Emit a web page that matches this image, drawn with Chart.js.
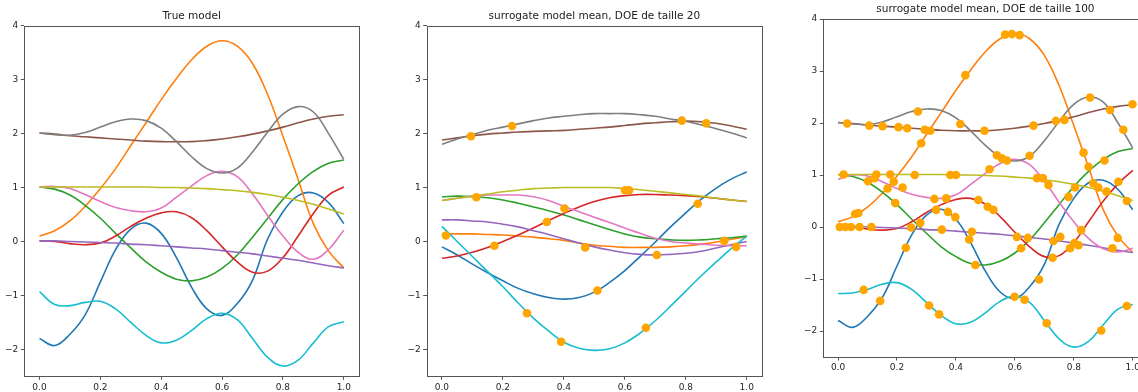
<!DOCTYPE html>
<html>
<head>
<meta charset="utf-8">
<title>Surrogate models</title>
<script src="https://cdn.jsdelivr.net/npm/chart.js@4.4.1/dist/chart.umd.min.js"></script>
<style>
  html, body { margin: 0; padding: 0; background: #fff; overflow: hidden; }
  body { width: 1138px; height: 392px; position: relative; }
  canvas { position: absolute; top: 0; }
</style>
</head>
<body>
<canvas id="trueChart" width="380" height="392" style="left:0px"></canvas>
<canvas id="doe20Chart" width="390" height="392" style="left:380px"></canvas>
<canvas id="doe100Chart" width="400" height="392" style="left:770px"></canvas>
<script>
// common grid for every curve
const xs = [0, 0.05, 0.1, 0.15, 0.2, 0.25, 0.3, 0.35, 0.4, 0.45, 0.5, 0.55, 0.6, 0.65, 0.7, 0.75, 0.8, 0.85, 0.9, 0.95, 1];
const xTicks = [0, 0.2, 0.4, 0.6, 0.8, 1];
const yTicks = [-2, -1, 0, 1, 2, 3, 4];

// true model, one array per output
const trueBlue   = [-1.8, -1.93, -1.72, -1.36, -0.75, -0.15, 0.23, 0.34, 0.15, -0.3, -0.85, -1.25, -1.37, -1.15, -0.72, 0.05, 0.55, 0.85, 0.9, 0.72, 0.33];
const trueOrange = [0.1, 0.2, 0.38, 0.65, 0.98, 1.35, 1.78, 2.2, 2.63, 3.02, 3.37, 3.62, 3.72, 3.62, 3.3, 2.72, 1.95, 1.15, 0.33, -0.18, -0.49];
const trueGreen  = [1.01, 0.97, 0.86, 0.67, 0.43, 0.15, -0.12, -0.38, -0.57, -0.7, -0.73, -0.66, -0.5, -0.25, 0.08, 0.43, 0.78, 1.07, 1.3, 1.45, 1.51];
const trueRed    = [0.01, 0.0, -0.04, -0.06, -0.03, 0.1, 0.28, 0.43, 0.53, 0.55, 0.44, 0.2, -0.1, -0.38, -0.57, -0.55, -0.3, 0.1, 0.52, 0.86, 1.01];
const truePurple = [0.01, 0.01, 0.0, -0.01, -0.02, -0.03, -0.05, -0.06, -0.08, -0.1, -0.12, -0.14, -0.17, -0.2, -0.23, -0.27, -0.31, -0.35, -0.4, -0.45, -0.49];
const trueBrown  = [2.01, 1.99, 1.96, 1.94, 1.92, 1.9, 1.88, 1.86, 1.85, 1.85, 1.85, 1.87, 1.9, 1.94, 1.99, 2.05, 2.12, 2.2, 2.27, 2.32, 2.35];
const truePink   = [1.01, 1.02, 0.98, 0.87, 0.74, 0.63, 0.57, 0.55, 0.62, 0.82, 1.03, 1.22, 1.3, 1.2, 0.88, 0.48, 0.1, -0.2, -0.33, -0.15, 0.21];
const trueGray   = [2.01, 1.98, 1.97, 2.02, 2.12, 2.22, 2.27, 2.24, 2.1, 1.85, 1.57, 1.35, 1.27, 1.36, 1.66, 2.03, 2.36, 2.5, 2.4, 2.0, 1.52];
const trueOlive  = [1.01, 1.01, 1.01, 1.01, 1.01, 1.01, 1.01, 1.01, 1.0, 1.0, 0.99, 0.98, 0.96, 0.94, 0.91, 0.87, 0.82, 0.76, 0.69, 0.6, 0.51];
const trueCyan   = [-0.93, -1.17, -1.19, -1.13, -1.11, -1.25, -1.5, -1.74, -1.88, -1.83, -1.65, -1.43, -1.33, -1.45, -1.8, -2.15, -2.31, -2.2, -1.88, -1.58, -1.49];

// GP mean, 20 training points
const doe20Blue   = [-0.1, -0.25, -0.42, -0.58, -0.73, -0.87, -0.97, -1.04, -1.07, -1.04, -0.94, -0.76, -0.54, -0.28, -0.01, 0.27, 0.53, 0.78, 0.99, 1.16, 1.29];
const doe20Orange = [0.14, 0.14, 0.14, 0.13, 0.12, 0.1, 0.08, 0.05, 0.02, -0.03, -0.07, -0.09, -0.11, -0.11, -0.11, -0.1, -0.08, -0.05, -0.01, 0.04, 0.09];
const doe20Green  = [0.83, 0.84, 0.83, 0.81, 0.77, 0.71, 0.64, 0.57, 0.49, 0.4, 0.31, 0.22, 0.14, 0.08, 0.05, 0.03, 0.02, 0.03, 0.05, 0.07, 0.1];
const doe20Red    = [-0.31, -0.27, -0.2, -0.11, 0.0, 0.12, 0.25, 0.39, 0.52, 0.64, 0.74, 0.81, 0.85, 0.87, 0.87, 0.86, 0.85, 0.83, 0.8, 0.77, 0.74];
const doe20Purple = [0.4, 0.4, 0.38, 0.36, 0.32, 0.27, 0.2, 0.13, 0.05, -0.03, -0.1, -0.16, -0.21, -0.24, -0.25, -0.24, -0.22, -0.18, -0.12, -0.06, 0.0];
const doe20Brown  = [1.88, 1.92, 1.96, 1.99, 2.01, 2.03, 2.04, 2.05, 2.06, 2.08, 2.1, 2.12, 2.15, 2.18, 2.2, 2.22, 2.23, 2.22, 2.19, 2.14, 2.08];
const doe20Pink   = [0.76, 0.8, 0.84, 0.86, 0.86, 0.86, 0.83, 0.76, 0.65, 0.55, 0.45, 0.35, 0.25, 0.15, 0.06, 0.0, -0.03, -0.05, -0.07, -0.08, -0.08];
const doe20Gray   = [1.8, 1.9, 1.98, 2.06, 2.12, 2.18, 2.24, 2.29, 2.32, 2.35, 2.37, 2.37, 2.37, 2.35, 2.32, 2.27, 2.23, 2.16, 2.09, 2.01, 1.92];
const doe20Olive  = [0.76, 0.8, 0.84, 0.88, 0.92, 0.95, 0.98, 0.99, 1.0, 1.0, 1.0, 1.0, 0.98, 0.96, 0.93, 0.9, 0.87, 0.84, 0.8, 0.77, 0.74];
const doe20Cyan   = [0.28, 0.0, -0.28, -0.56, -0.84, -1.14, -1.42, -1.66, -1.87, -1.98, -2.02, -1.99, -1.88, -1.7, -1.47, -1.2, -0.92, -0.64, -0.38, -0.13, 0.1];

const doe20X = [0.013, 0.095, 0.113, 0.172, 0.23, 0.279, 0.344, 0.391, 0.402, 0.47, 0.51, 0.601, 0.614, 0.669, 0.705, 0.787, 0.839, 0.867, 0.926, 0.965];
const doe20Y = [0.11, 1.95, 0.82, -0.08, 2.14, -1.33, 0.36, -1.86, 0.61, -0.11, -0.91, 0.95, 0.95, -1.6, -0.25, 2.24, 0.70, 2.19, 0.01, -0.1];

// GP mean, 100 training points: only these three differ visibly from the true model
const doe100Red  = [0.0, 0.0, -0.04, -0.06, -0.03, 0.1, 0.28, 0.43, 0.53, 0.55, 0.44, 0.2, -0.1, -0.38, -0.57, -0.55, -0.3, 0.1, 0.5, 0.83, 1.09];
const doe100Pink = [0.92, 1.0, 0.98, 0.87, 0.74, 0.63, 0.57, 0.55, 0.62, 0.82, 1.03, 1.22, 1.3, 1.2, 0.88, 0.48, 0.1, -0.22, -0.42, -0.48, -0.41];
const doe100Cyan = [-1.28, -1.27, -1.2, -1.1, -1.07, -1.2, -1.45, -1.7, -1.86, -1.83, -1.65, -1.43, -1.33, -1.45, -1.8, -2.15, -2.31, -2.2, -1.88, -1.58, -1.49];

const doe100X = [0.006, 0.025, 0.044, 0.073, 0.113, 0.019, 0.031, 0.058, 0.069, 0.087, 0.102, 0.106, 0.124, 0.13, 0.143, 0.151,
    0.168, 0.177, 0.189, 0.194, 0.205, 0.219, 0.23, 0.235, 0.248, 0.26, 0.271, 0.279, 0.282, 0.294, 0.309, 0.313,
    0.327, 0.333, 0.343, 0.352, 0.367, 0.373, 0.381, 0.398, 0.4, 0.415, 0.432, 0.445, 0.454, 0.466, 0.476, 0.497,
    0.508, 0.514, 0.527, 0.539, 0.556, 0.567, 0.573, 0.59, 0.599, 0.607, 0.616, 0.621, 0.633, 0.644, 0.65, 0.663,
    0.675, 0.682, 0.695, 0.708, 0.714, 0.728, 0.731, 0.739, 0.754, 0.768, 0.782, 0.787, 0.802, 0.804, 0.816, 0.825,
    0.833, 0.85, 0.855, 0.866, 0.883, 0.893, 0.904, 0.911, 0.923, 0.931, 0.949, 0.951, 0.968, 0.98, 0.98, 0.999];
const doe100Y = [0.0, 0.0, 0.0, 0.0, 0.0, 1.01, 1.99, 0.25, 0.27, -1.21, 0.88, 1.95, 0.94, 1.01, -1.42, 1.94,
    0.74, 1.01, 0.87, 0.46, 1.92, 0.76, -0.4, 1.9, -0.01, 1.0, 2.22, 0.08, 1.61, 1.87, -1.51, 1.85,
    0.54, 0.33, -1.68, -0.05, 0.55, 0.29, 1.0, 0.19, 1.0, 1.98, 2.92, -0.24, -0.09, -0.73, 0.52, 1.85,
    0.39, 1.11, 0.33, 1.38, 1.32, 3.7, 1.28, 3.71, -1.34, -0.19, 3.69, -0.41, -1.4, -0.21, 1.37, 1.95,
    0.94, -1.01, 0.94, -1.85, 0.81, -0.59, -0.27, 2.04, -0.19, 2.06, 0.58, -0.41, -0.31, 0.76, -0.35, -0.06,
    1.43, 1.16, 2.49, 0.84, 0.76, -1.99, 1.28, 0.68, 2.25, -0.41, -0.21, 0.87, 1.87, 0.5, -1.52, 2.36];

const COLORS = ['#1f77b4', '#ff7f0e', '#2ca02c', '#d62728', '#9467bd', '#8c564b', '#e377c2', '#7f7f7f', '#bcbd22', '#17becf'];
const DOT_COLOR = '#ffa500';
const FONT = 'DejaVu Sans';

Chart.defaults.font.family = FONT;
Chart.defaults.color = '#262626';

function toPoints(xv, yv) {
    return xv.map((x, i) => ({ x, y: yv[i] }));
}

// matplotlib style box around the plot area
const framePlugin = {
    id: 'frame',
    afterDatasetsDraw(chart) {
        const { ctx, chartArea: a } = chart;
        const l = Math.round(a.left) + 0.5, t = Math.round(a.top) + 0.5;
        const r = Math.round(a.right) + 0.5, b = Math.round(a.bottom) + 0.5;
        ctx.save();
        ctx.strokeStyle = '#555';
        ctx.lineWidth = 1;
        ctx.strokeRect(l, t, r - l, b - t);
        ctx.restore();
    }
};

function minusLabel(v) {
    return v < 0 ? '\u2212' + Math.abs(v) : String(v);
}

// box: plot rectangle inside the canvas (left, right, top, bottom in canvas px)
function renderPanel(id, title, curves, dotsX, dotsY, box, titlePad) {
    const canvas = document.getElementById(id);
    const datasets = curves.map((ys, i) => ({
        data: toPoints(xs, ys),
        showLine: true,
        borderColor: COLORS[i],
        borderWidth: 1.6,
        pointRadius: 0,
        tension: 0.4,
        order: 20 - i
    }));
    if (dotsX) {
        datasets.push({
            data: toPoints(dotsX, dotsY),
            showLine: false,
            pointRadius: 4.3,
            pointBorderWidth: 0,
            backgroundColor: DOT_COLOR,
            order: 0
        });
    }

    return new Chart(canvas, {
        type: 'scatter',
        data: { datasets },
        plugins: [framePlugin],
        options: {
            responsive: false,
            animation: false,
            devicePixelRatio: 1,
            layout: { padding: { left: 0, top: 0, bottom: 0, right: canvas.width - box.right } },
            plugins: {
                legend: { display: false },
                tooltip: { enabled: false },
                title: {
                    display: true,
                    text: title,
                    fullSize: false,
                    color: '#222',
                    font: { family: FONT, size: 10.5, weight: 'normal', lineHeight: 1.2 },
                    padding: titlePad
                }
            },
            scales: {
                x: {
                    type: 'linear',
                    min: -0.05,
                    max: 1.05,
                    afterBuildTicks: (s) => { s.ticks = xTicks.map((v) => ({ value: v })); },
                    afterFit: (s) => { s.height = canvas.height - box.bottom; },
                    ticks: { font: { size: 9 }, padding: 2, maxRotation: 0, callback: (v) => v.toFixed(1) },
                    grid: { drawOnChartArea: false, tickLength: 3.5, color: '#555' },
                    border: { display: false }
                },
                y: {
                    type: 'linear',
                    min: -2.5,
                    max: 4,
                    afterBuildTicks: (s) => { s.ticks = yTicks.map((v) => ({ value: v })); },
                    afterFit: (s) => { s.width = box.left; },
                    ticks: { font: { size: 9 }, padding: 2.5, callback: minusLabel },
                    grid: { drawOnChartArea: false, tickLength: 3.5, color: '#555' },
                    border: { display: false }
                }
            }
        }
    });
}

renderPanel('trueChart', 'True model',
    [trueBlue, trueOrange, trueGreen, trueRed, truePurple, trueBrown, truePink, trueGray, trueOlive, trueCyan],
    null, null,
    { left: 24.3, right: 359, top: 25.7, bottom: 376.3 },
    { top: 9.7, bottom: 3.4 });

renderPanel('doe20Chart', 'surrogate model mean, DOE de taille 20',
    [doe20Blue, doe20Orange, doe20Green, doe20Red, doe20Purple, doe20Brown, doe20Pink, doe20Gray, doe20Olive, doe20Cyan],
    doe20X, doe20Y,
    { left: 46.7, right: 382, top: 25.7, bottom: 376.3 },
    { top: 9.7, bottom: 3.4 });

renderPanel('doe100Chart', 'surrogate model mean, DOE de taille 100',
    [trueBlue, trueOrange, trueGreen, doe100Red, truePurple, trueBrown, doe100Pink, trueGray, trueOlive, doe100Cyan],
    doe100X, doe100Y,
    { left: 53.3, right: 377.5, top: 19, bottom: 357 },
    { top: 2.7, bottom: 3.7 });
</script>
</body>
</html>
